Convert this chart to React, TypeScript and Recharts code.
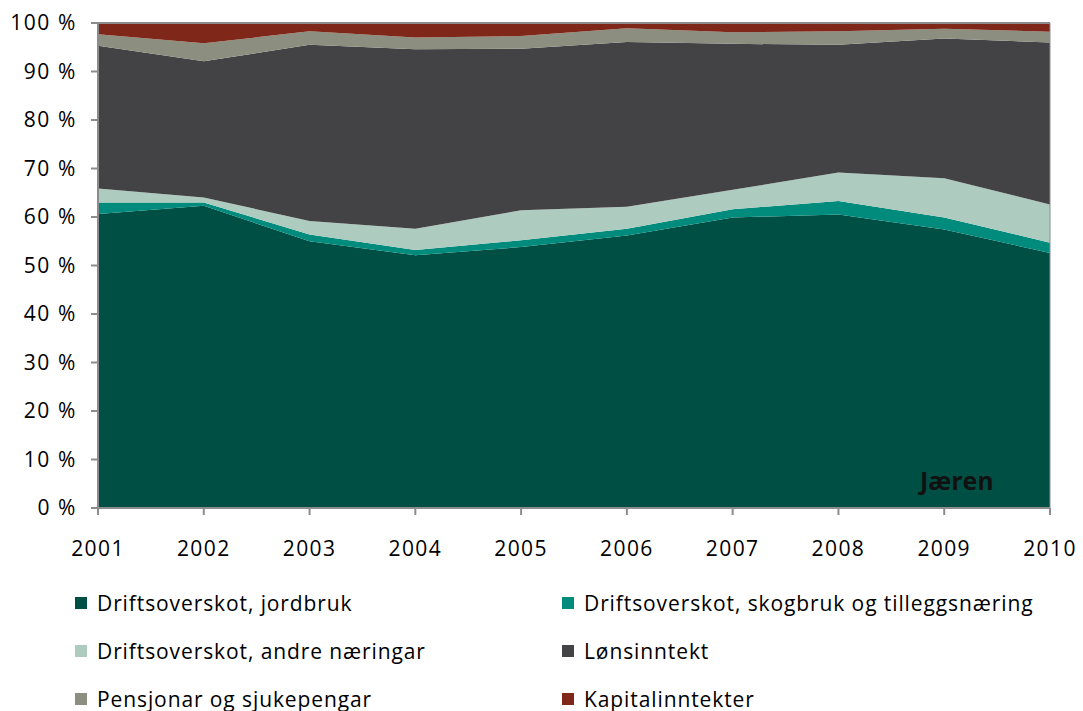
import React from 'react'
import {
  AreaChart,
  Area,
  XAxis,
  YAxis,
  Legend,
  ReferenceLine,
} from 'recharts'

// shares of total income, per cent
const years = ['2001', '2002', '2003', '2004', '2005', '2006', '2007', '2008', '2009', '2010']
const jordbruk = [60.6, 62.3, 55.0, 52.1, 53.8, 56.2, 59.9, 60.5, 57.4, 52.6]
const skogbruk = [2.4, 0.7, 1.4, 1.1, 1.4, 1.4, 1.7, 2.8, 2.5, 2.1]
const andre = [2.9, 1.0, 2.8, 4.4, 6.2, 4.5, 4.0, 5.9, 8.1, 7.9]
const lonn = [29.4, 28.1, 36.3, 37.0, 33.3, 34.0, 30.1, 26.3, 28.8, 33.4]
const pensjon = [2.4, 3.7, 2.8, 2.4, 2.6, 2.8, 2.4, 2.8, 2.0, 2.2]
const kapital = [2.3, 4.2, 1.7, 3.0, 2.7, 1.1, 1.9, 1.7, 1.2, 1.8]
const yTicks = [0, 0.1, 0.2, 0.3, 0.4, 0.5, 0.6, 0.7, 0.8, 0.9, 1]

const series = [
  { key: 'jordbruk', name: 'Driftsoverskot, jordbruk', color: '#004f45' },
  { key: 'skogbruk', name: 'Driftsoverskot, skogbruk og tilleggsnæring', color: '#008b7d' },
  { key: 'andre', name: 'Driftsoverskot, andre næringar', color: '#aecbbf' },
  { key: 'lonn', name: 'Lønsinntekt', color: '#434244' },
  { key: 'pensjon', name: 'Pensjonar og sjukepengar', color: '#8c8e80' },
  { key: 'kapital', name: 'Kapitalinntekter', color: '#7f2719' },
]

const data = years.map((year, i) => ({
  year,
  jordbruk: jordbruk[i],
  skogbruk: skogbruk[i],
  andre: andre[i],
  lonn: lonn[i],
  pensjon: pensjon[i],
  kapital: kapital[i],
}))

const font = '"Open Sans", sans-serif'

function LegendGrid() {
  return (
    <div
      style={{
        display: 'grid',
        gridTemplateColumns: '487px 480px',
        gridAutoRows: '48px',
        paddingTop: 31,
        paddingLeft: 67,
        fontFamily: font,
        fontSize: 21,
        color: '#000',
        boxSizing: 'border-box',
        height: 163,
      }}
    >
      {series.map((s) => (
        <div key={s.key} style={{ display: 'flex', alignItems: 'center' }}>
          <span
            style={{
              display: 'inline-block',
              width: 12,
              height: 12,
              background: s.color,
              marginRight: 10,
            }}
          />
          <span style={{ letterSpacing: 0.9 }}>{s.name}</span>
        </div>
      ))}
    </div>
  )
}

export default function App() {
  return (
    <div style={{ position: 'relative', width: 1075, height: 703 }}>
      <AreaChart
        width={1075}
        height={703}
        data={data}
        stackOffset="expand"
        margin={{ top: 15, right: 33, left: 0, bottom: 0 }}
      >
        <XAxis
          dataKey="year"
          stroke="#8c8c8c"
          strokeWidth={2}
          tickSize={7}
          height={40}
          tick={{ fill: '#000', fontSize: 21, fontFamily: font, letterSpacing: 1.4, dy: 20 }}
          tickMargin={6}
          interval={0}
        />
        <YAxis
          width={90}
          domain={[0, 1]}
          ticks={yTicks}
          stroke="#8c8c8c"
          strokeWidth={2}
          tickSize={7}
          tickMargin={14}
          tick={{ fill: '#000', fontSize: 21, fontFamily: font, letterSpacing: 1.6 }}
          tickFormatter={(v: number) => `${Math.round(v * 100)} %`}
        />
        {series.map((s) => (
          <Area
            key={s.key}
            type="linear"
            dataKey={s.key}
            name={s.name}
            stackId="1"
            stroke="none"
            fill={s.color}
            fillOpacity={1}
            isAnimationActive={false}
          />
        ))}
        <ReferenceLine y={1} stroke="#8c8c8c" strokeWidth={2} />
        <ReferenceLine x="2010" stroke="#8c8c8c" strokeWidth={1} />
        <Legend
          verticalAlign="bottom"
          align="left"
          height={163}
          content={() => <LegendGrid />}
        />
      </AreaChart>
      <div
        style={{
          position: 'absolute',
          left: 912,
          top: 455,
          fontFamily: font,
          fontWeight: 700,
          fontSize: 25,
          color: '#111',
        }}
      >
        Jæren
      </div>
    </div>
  )
}
